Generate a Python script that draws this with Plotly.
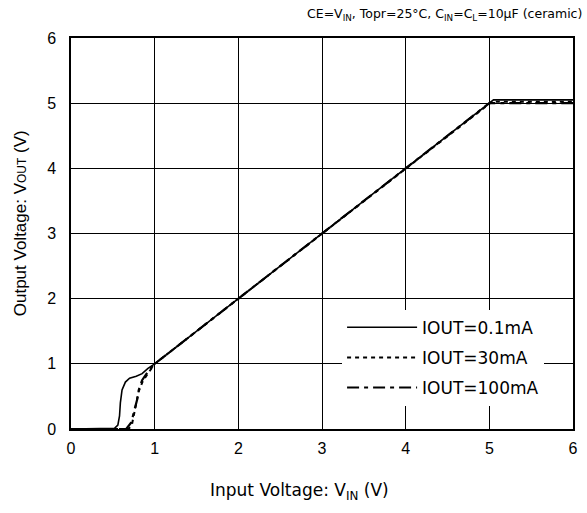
import plotly.graph_objects as go

# Series data
x_01 = [0, 0.45, 0.52, 0.56, 0.58, 0.59, 0.61, 0.65, 0.70, 0.78, 0.85, 0.92, 1.0, 2.0, 3.0, 4.0, 5.0, 5.05, 6.0]
y_01 = [0, 0.0, 0.01, 0.06, 0.2, 0.4, 0.6, 0.72, 0.78, 0.81, 0.85, 0.93, 1.0, 2.0, 3.0, 4.0, 5.0, 5.05, 5.05]

x_30 = [0, 0.69, 0.73, 0.76, 0.79, 0.81, 0.86, 0.91, 1.0, 2.0, 3.0, 4.0, 5.0, 5.03, 6.0]
y_30 = [0, 0.0, 0.08, 0.25, 0.45, 0.58, 0.74, 0.84, 1.0, 2.0, 3.0, 4.0, 5.0, 5.02, 5.02]

x_100 = [0, 0.66, 0.72, 0.76, 0.79, 0.81, 0.85, 0.92, 1.0, 2.0, 3.0, 4.0, 5.0, 6.0]
y_100 = [0, 0.0, 0.1, 0.3, 0.45, 0.6, 0.75, 0.88, 1.0, 2.0, 3.0, 4.0, 5.0, 5.0]

names = ["IOUT=0.1mA", "IOUT=30mA", "IOUT=100mA"]
x_ticks = [0, 1, 2, 3, 4, 5, 6]
y_ticks = [0, 1, 2, 3, 4, 5, 6]

fig = go.Figure()
fig.add_trace(go.Scatter(x=x_01, y=y_01, mode="lines", name=names[0], legendgroup="a",
                         line=dict(color="black", width=1.6, dash="solid")))
fig.add_trace(go.Scatter(x=x_30, y=y_30, mode="lines", name=names[1], legendgroup="b",
                         line=dict(color="black", width=2, dash="4px,4px")))
fig.add_trace(go.Scatter(x=x_100, y=y_100, mode="lines", name=names[2], legendgroup="c",
                         line=dict(color="black", width=2.2, dash="12px,5px,4px,5px")))

tick_family = "Liberation Sans, Arial, sans-serif"
label_family = "DejaVu Sans, sans-serif"

fig.update_layout(
    width=587, height=513,
    margin=dict(l=71, r=9, t=38, b=84),
    paper_bgcolor="white", plot_bgcolor="white",
    font=dict(family=tick_family, color="black"),
    showlegend=True,
    legend=dict(x=0.54, y=0.305, xanchor="left", yanchor="top",
                bgcolor="white", borderwidth=0,
                font=dict(size=17, family=label_family),
                itemwidth=70, tracegroupgap=5),
    xaxis=dict(range=[0, 6], tickvals=x_ticks, ticktext=[str(v) for v in x_ticks],
               showgrid=True, gridcolor="black", gridwidth=1,
               showline=True, linecolor="black", linewidth=1.5, mirror=True,
               zeroline=False, ticks="", tickfont=dict(size=16), ticklabelstandoff=4),
    yaxis=dict(range=[0, 6], tickvals=y_ticks, ticktext=[str(v) for v in y_ticks],
               showgrid=True, gridcolor="black", gridwidth=1,
               showline=True, linecolor="black", linewidth=1.5, mirror=True,
               zeroline=False, ticks="", tickfont=dict(size=16), ticklabelstandoff=10),
    annotations=[
        dict(text="CE=V<sub>IN</sub>, Topr=25°C, C<sub>IN</sub>=C<sub>L</sub>=10μF (ceramic)",
             xref="paper", yref="paper", x=1.022, y=1.061, xanchor="right", yanchor="middle",
             showarrow=False, font=dict(size=12.5, family=label_family)),
        dict(text="Input Voltage: V<sub>IN</sub> (V)",
             xref="paper", yref="paper", x=0.455, y=-0.161, xanchor="center", yanchor="middle",
             showarrow=False, font=dict(size=17, family=label_family)),
        dict(text="Output Voltage: V<span style='font-size:12px'>OUT</span> (V)",
             xref="paper", yref="paper", x=-0.099, y=0.527, xanchor="center", yanchor="middle",
             textangle=-90, showarrow=False, font=dict(size=17, family=tick_family)),
    ],
)

fig.write_html("out.html", config={"displayModeBar": False},
               post_script="document.body.style.margin='0';document.body.style.overflow='hidden';")
